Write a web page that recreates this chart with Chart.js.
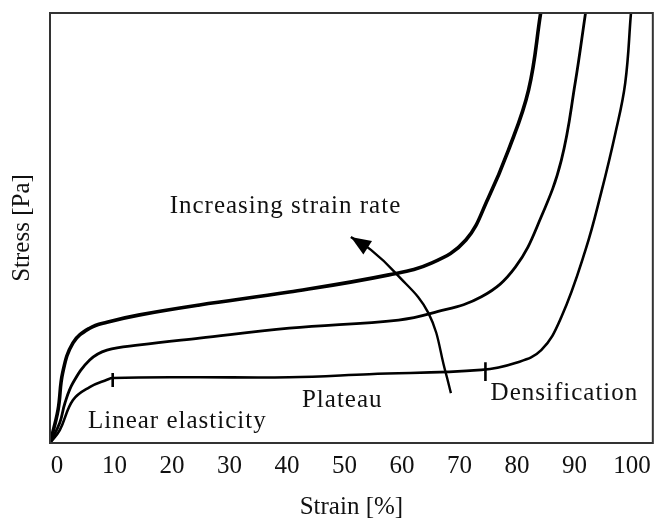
<!DOCTYPE html>
<html>
<head>
<meta charset="utf-8">
<script src="https://cdn.jsdelivr.net/npm/chart.js@4.4.1/dist/chart.umd.min.js"></script>
<style>
  html, body { margin: 0; padding: 0; background: #fff; }
  #wrap { width: 659px; height: 520px; position: relative; }
</style>
</head>
<body>
<div id="wrap"><canvas id="c"></canvas></div>
<script>
// ---- data (strain %, relative stress) ----
const tickValues = [0, 10, 20, 30, 40, 50, 60, 70, 80, 90, 100];
const tickLabels = ["0", "10", "20", "30", "40", "50", "60", "70", "80", "90", "100"];

const highRateStrain = [-1.2, 0.2, 1.0, 2.8, 5.7, 8.7, 14.4, 24.8, 40.4, 57.7, 65.2, 71.1, 75.0, 78.5, 82.0, 84.1];
const highRateStress = [0, 7.7, 16.3, 23.3, 26.7, 28.1, 29.8, 32.1, 35.1, 39.1, 41.9, 47.2, 57.0, 68.1, 82.1, 100];

const midRateStrain = [-1.2, 0.5, 1.4, 2.8, 5.7, 8.7, 14.4, 24.8, 40.4, 59.4, 65.2, 73.8, 79.7, 84.2, 87.7, 90.1, 91.9];
const midRateStress = [0, 4.7, 9.3, 14.0, 19.3, 21.6, 22.8, 24.4, 26.7, 28.6, 30.2, 34.0, 40.9, 52.6, 65.8, 83.7, 100];

const lowRateStrain = [-1.2, 0.5, 2.8, 5.7, 8.7, 9.7, 23.1, 40.4, 54.3, 73.8, 79.7, 84.2, 87.7, 91.9, 94.6, 97.1, 98.8, 99.8];
const lowRateStress = [0, 3.0, 10.0, 13.0, 14.7, 15.1, 15.3, 15.3, 16.0, 17.0, 18.6, 21.6, 29.3, 44.9, 58.1, 72.1, 83.7, 100];

const markerStrain = [9.7, 74.5];
const markerLow = [13.0, 14.4];
const markerHigh = [16.3, 18.8];

const arrowStrain = [68.5, 67.6, 64.6, 58.9, 54.6, 51.1];
const arrowStress = [11.6, 16.3, 30.2, 39.5, 44.9, 47.9];

const noteTexts = ["Increasing strain rate", "Linear elasticity", "Plateau", "Densification"];
const noteStrain = [19.6, 5.4, 42.6, 75.4];
const noteStress = [54.9, 4.9, 10.0, 11.6];

// ---- build datasets ----
function pts(xs, ys) { return xs.map((x, i) => ({ x: x, y: ys[i] })); }

const datasets = [
  { data: pts(highRateStrain, highRateStress), borderWidth: 3.6 },
  { data: pts(midRateStrain, midRateStress), borderWidth: 2.8 },
  { data: pts(lowRateStrain, lowRateStress), borderWidth: 2.6 }
].map(d => Object.assign({
  borderColor: '#000', pointRadius: 0, showLine: true,
  tension: 0.4, fill: false
}, d));

markerStrain.forEach((x, i) => {
  datasets.push({
    data: [{ x: x, y: markerLow[i] }, { x: x, y: markerHigh[i] }],
    borderColor: '#000', borderWidth: 2.6, pointRadius: 0, showLine: true, tension: 0
  });
});

datasets.push({
  data: pts(arrowStrain, arrowStress),
  borderColor: '#000', borderWidth: 2.4, pointRadius: 0, showLine: true, tension: 0.4
});

const SERIF = '"Liberation Serif", "Times New Roman", serif';

const decorPlugin = {
  id: 'decor',
  afterDatasetsDraw(chart) {
    const ctx = chart.ctx;
    const xs = chart.scales.x, ys = chart.scales.y;
    const a = chart.chartArea;
    ctx.save();
    // frame
    ctx.strokeStyle = '#333';
    ctx.lineWidth = 2;
    ctx.strokeRect(a.left, a.top, a.right - a.left, a.bottom - a.top);
    // arrow head
    const n = arrowStrain.length;
    const tx = xs.getPixelForValue(arrowStrain[n - 1]), ty = ys.getPixelForValue(arrowStress[n - 1]);
    const px = xs.getPixelForValue(arrowStrain[n - 2]), py = ys.getPixelForValue(arrowStress[n - 2]);
    const ang = Math.atan2(ty - py, tx - px);
    const L = 20, W = 8;
    ctx.fillStyle = '#000';
    ctx.beginPath();
    ctx.moveTo(tx, ty);
    ctx.lineTo(tx - L * Math.cos(ang) + W * Math.sin(ang), ty - L * Math.sin(ang) - W * Math.cos(ang));
    ctx.lineTo(tx - L * Math.cos(ang) - W * Math.sin(ang), ty - L * Math.sin(ang) + W * Math.cos(ang));
    ctx.closePath();
    ctx.fill();
    // notes
    ctx.fillStyle = '#111';
    ctx.font = '25px ' + SERIF;
    ctx.textAlign = 'left';
    ctx.textBaseline = 'middle';
    if ('letterSpacing' in ctx) ctx.letterSpacing = '1px';
    noteTexts.forEach((t, i) => {
      ctx.fillText(t, xs.getPixelForValue(noteStrain[i]), ys.getPixelForValue(noteStress[i]));
    });
    ctx.restore();
  }
};

new Chart(document.getElementById('c'), {
  type: 'scatter',
  data: { datasets: datasets },
  options: {
    responsive: true,
    maintainAspectRatio: false,
    animation: false,
    events: [],
    layout: { padding: { left: 0, right: 4, top: 13, bottom: 0 } },
    plugins: { legend: { display: false }, tooltip: { enabled: false } },
    scales: {
      x: {
        type: 'linear',
        min: -1.2,
        max: 103.6,
        afterBuildTicks(scale) { scale.ticks = tickValues.map(v => ({ value: v })); },
        afterFit(scale) { scale.height = 77; },
        grid: { display: false, drawTicks: false },
        border: { display: false },
        ticks: {
          padding: 8,
          color: '#111',
          autoSkip: false,
          maxRotation: 0,
          font: { family: SERIF, size: 25 },
          callback: (v) => tickLabels[tickValues.indexOf(v)]
        },
        title: {
          display: true,
          text: 'Strain [%]',
          color: '#111',
          font: { family: SERIF, size: 25, lineHeight: 1 },
          padding: { top: 0, bottom: 0 }
        }
      },
      y: {
        type: 'linear',
        min: 0,
        max: 100,
        afterFit(scale) { scale.width = 50; },
        grid: { display: false, drawTicks: false },
        border: { display: false },
        ticks: { display: false },
        title: {
          display: true,
          text: 'Stress [Pa]',
          color: '#111',
          font: { family: SERIF, size: 25, lineHeight: 1 },
          padding: { top: 10, bottom: 0 }
        }
      }
    }
  },
  plugins: [decorPlugin]
});
</script>
</body>
</html>
